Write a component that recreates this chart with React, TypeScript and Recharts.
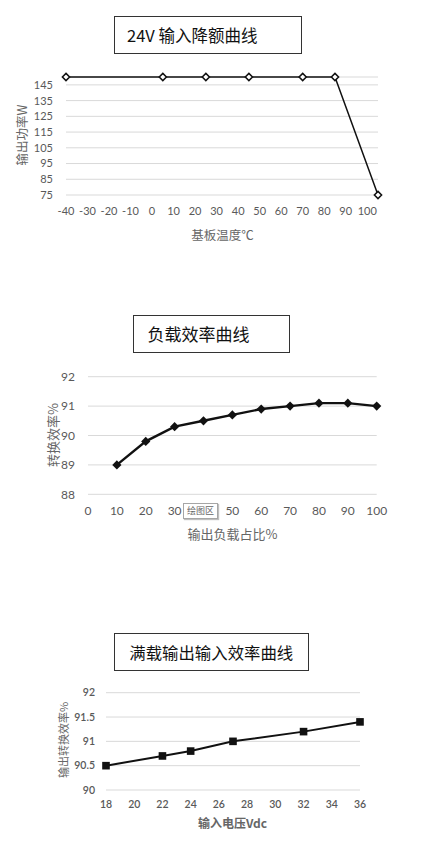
import { LineChart, Line, XAxis, YAxis, CartesianGrid } from "recharts";

// 24V 输入降额曲线
const tempC = [-40, 5, 25, 45, 70, 85, 105];
const powerW = [150, 150, 150, 150, 150, 150, 75];
const tempTicks = [-40, -30, -20, -10, 0, 10, 20, 30, 40, 50, 60, 70, 80, 90, 100];
const powerTicks = [75, 85, 95, 105, 115, 125, 135, 145];

// 负载效率曲线
const loadPct = [10, 20, 30, 40, 50, 60, 70, 80, 90, 100];
const loadEff = [89, 89.8, 90.3, 90.5, 90.7, 90.9, 91, 91.1, 91.1, 91];
const loadTicks = [0, 10, 20, 30, 40, 50, 60, 70, 80, 90, 100];
const loadEffTicks = [88, 89, 90, 91, 92];

// 满载输出输入效率曲线
const inputV = [18, 22, 24, 27, 32, 36];
const inputEff = [90.5, 90.7, 90.8, 91.0, 91.2, 91.4];
const inputTicks = [18, 20, 22, 24, 26, 28, 30, 32, 34, 36];
const inputEffTicks = [90, 90.5, 91, 91.5, 92];

const FONT = "Lato, 'Noto Sans CJK SC', sans-serif";
const CJK = "'Noto Sans CJK SC', Lato, sans-serif";
const GRID = "#d9d9d9";
const TICK_COLOR = "#595959";
const LINE = "#111111";

const derating = tempC.map((t, i) => ({ t, p: powerW[i] }));
const loadRows = loadPct.map((x, i) => ({ x, e: loadEff[i] }));
const inputRows = inputV.map((v, i) => ({ v, e: inputEff[i] }));

function HollowDiamond(props: any) {
  const { cx, cy, index } = props;
  if (cx == null || cy == null) return null;
  const r = 3.6;
  return (
    <polygon
      key={`hd-${index}`}
      points={`${cx},${cy - r} ${cx + r},${cy} ${cx},${cy + r} ${cx - r},${cy}`}
      fill="#fff"
      stroke={LINE}
      strokeWidth={1.5}
    />
  );
}

function SolidDiamond(props: any) {
  const { cx, cy, index } = props;
  if (cx == null || cy == null) return null;
  const r = 4.6;
  return (
    <polygon
      key={`sd-${index}`}
      points={`${cx},${cy - r} ${cx + r},${cy} ${cx},${cy + r} ${cx - r},${cy}`}
      fill={LINE}
    />
  );
}

function Square(props: any) {
  const { cx, cy, index } = props;
  if (cx == null || cy == null) return null;
  const s = 7.6;
  return <rect key={`sq-${index}`} x={cx - s / 2} y={cy - s / 2} width={s} height={s} fill={LINE} />;
}

function TitleBox({
  left,
  top,
  width,
  height,
  text,
  textLeft,
  size,
}: {
  left: number;
  top: number;
  width: number;
  height: number;
  text: string;
  textLeft: number;
  size: number;
}) {
  return (
    <div
      style={{
        position: "absolute",
        left,
        top,
        width,
        height,
        boxSizing: "border-box",
        border: "1.3px solid #333",
        background: "#fff",
      }}
    >
      <span
        style={{
          position: "absolute",
          left: textLeft - left,
          top: 0,
          lineHeight: `${height - 2}px`,
          fontSize: size,
          fontFamily: CJK,
          color: "#111",
          whiteSpace: "nowrap",
        }}
      >
        {text}
      </span>
    </div>
  );
}

function AxisTitle({
  x,
  y,
  text,
  size,
  rotate,
  weight,
}: {
  x: number;
  y: number;
  text: string;
  size: number;
  rotate?: boolean;
  weight?: number;
}) {
  return (
    <div
      style={{
        position: "absolute",
        left: x,
        top: y,
        transform: `translate(-50%, -50%)${rotate ? " rotate(-90deg)" : ""}`,
        fontSize: size,
        fontFamily: CJK,
        fontWeight: weight ?? 400,
        color: "#666",
        whiteSpace: "nowrap",
        lineHeight: 1,
      }}
    >
      {text}
    </div>
  );
}

export default function App() {
  return (
    <div style={{ position: "relative", width: 437, height: 841, background: "#fff", overflow: "hidden" }}>
      <style>{`body{margin:0}`}</style>

      {/* chart 1 */}
      <div style={{ position: "absolute", left: 0, top: 0 }}>
        <LineChart width={437} height={250} data={derating} margin={{ top: 77, right: 59, bottom: 25, left: 26 }}>
          <CartesianGrid stroke={GRID} vertical={false} />
          <XAxis
            dataKey="t"
            type="number"
            domain={[-40, 105]}
            ticks={tempTicks}
            interval={0}
            axisLine={false}
            tickLine={false}
            tickMargin={6.5}
            height={30}
            tick={{ fontSize: 11, fill: TICK_COLOR, fontFamily: FONT }}
          />
          <YAxis
            type="number"
            domain={[75, 150]}
            ticks={powerTicks}
            interval={0}
            axisLine={false}
            tickLine={false}
            tickMargin={7}
            width={40}
            tick={{ fontSize: 11, fill: TICK_COLOR, fontFamily: FONT }}
          />
          <Line
            dataKey="p"
            stroke={LINE}
            strokeWidth={1.5}
            dot={HollowDiamond}
            activeDot={false}
            isAnimationActive={false}
          />
        </LineChart>
      </div>
      <TitleBox left={114} top={16} width={188} height={38} text="24V 输入降额曲线" textLeft={126} size={16.5} />
      <AxisTitle x={22} y={135} text="输出功率W" size={12.5} rotate />
      <AxisTitle x={222.5} y={235} text="基板温度℃" size={12.5} />

      {/* chart 2 */}
      <div style={{ position: "absolute", left: 0, top: 300 }}>
        <LineChart width={437} height={250} data={loadRows} margin={{ top: 76.7, right: 60.3, bottom: 25.7, left: 48 }}>
          <CartesianGrid stroke={GRID} vertical={false} />
          <XAxis
            dataKey="x"
            type="number"
            domain={[0, 100]}
            ticks={loadTicks}
            interval={0}
            axisLine={false}
            tickLine={false}
            tickMargin={6.3}
            height={30}
            // the "40" label sits under the 绘图区 hover tag in the picture
            tickFormatter={(v: number) => (v === 40 ? "" : String(v))}
            tick={{ fontSize: 12, fill: TICK_COLOR, fontFamily: FONT }}
          />
          <YAxis
            type="number"
            domain={[88, 92]}
            ticks={loadEffTicks}
            interval={0}
            axisLine={false}
            tickLine={false}
            tickMargin={7}
            width={40}
            tick={{ fontSize: 12, fill: TICK_COLOR, fontFamily: FONT }}
          />
          <Line
            dataKey="e"
            stroke={LINE}
            strokeWidth={2.4}
            dot={SolidDiamond}
            activeDot={false}
            isAnimationActive={false}
          />
        </LineChart>
      </div>
      <TitleBox left={132.7} top={315} width={157.5} height={37.5} text="负载效率曲线" textLeft={146.5} size={17} />
      <AxisTitle x={51.5} y={435} text="转换效率%" size={13} rotate />
      <AxisTitle x={232.5} y={533.3} text="输出负载占比%" size={13} />
      <div
        style={{
          position: "absolute",
          left: 182.7,
          top: 503,
          width: 35.5,
          height: 15.5,
          boxSizing: "border-box",
          border: "1px solid #a6a6a6",
          background: "#fff",
          boxShadow: "1px 1px 1px rgba(0,0,0,0.25)",
          fontFamily: CJK,
          fontSize: 9,
          color: "#666",
          lineHeight: "13.5px",
          textAlign: "center",
        }}
      >
        绘图区
      </div>

      {/* chart 3 */}
      <div style={{ position: "absolute", left: 0, top: 620 }}>
        <LineChart width={437} height={221} data={inputRows} margin={{ top: 72.7, right: 77, bottom: 21, left: 66 }}>
          <CartesianGrid stroke={GRID} vertical={false} />
          <XAxis
            dataKey="v"
            type="number"
            domain={[18, 36]}
            ticks={inputTicks}
            interval={0}
            axisLine={false}
            tickLine={false}
            tickMargin={4.5}
            height={30}
            tick={{ fontSize: 10.5, fill: TICK_COLOR, fontFamily: FONT, fontWeight: 600 }}
          />
          <YAxis
            type="number"
            domain={[90, 92]}
            ticks={inputEffTicks}
            interval={0}
            axisLine={false}
            tickLine={false}
            tickMargin={5}
            width={40}
            tick={{ fontSize: 10.5, fill: TICK_COLOR, fontFamily: FONT, fontWeight: 600 }}
          />
          <Line
            dataKey="e"
            stroke={LINE}
            strokeWidth={2}
            dot={Square}
            activeDot={false}
            isAnimationActive={false}
          />
        </LineChart>
      </div>
      <TitleBox left={114.3} top={632.7} width={195} height={38} text="满载输出输入效率曲线" textLeft={128.3} size={16.4} />
      <AxisTitle x={63.3} y={740} text="输出转换效率%" size={11} rotate />
      <AxisTitle x={232.5} y={823.3} text="输入电压Vdc" size={12} weight={600} />
    </div>
  );
}
